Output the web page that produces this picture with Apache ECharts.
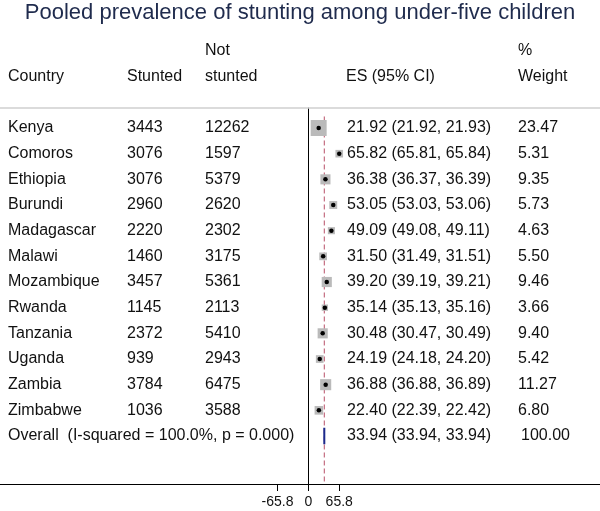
<!DOCTYPE html>
<html>
<head>
<meta charset="utf-8">
<script src="https://cdn.jsdelivr.net/npm/echarts@6/dist/echarts.min.js"></script>
<style>
html,body{margin:0;padding:0;background:#fff;}
#chart{width:600px;height:511px;}
</style>
</head>
<body>
<div id="chart"></div>
<script>
const countries = ["Kenya","Comoros","Ethiopia","Burundi","Madagascar","Malawi","Mozambique","Rwanda","Tanzania","Uganda","Zambia","Zimbabwe"];
const stunted = [3443,3076,3076,2960,2220,1460,3457,1145,2372,939,3784,1036];
const notStunted = [12262,1597,5379,2620,2302,3175,5361,2113,5410,2943,6475,3588];
const es = [21.92,65.82,36.38,53.05,49.09,31.50,39.20,35.14,30.48,24.19,36.88,22.40];
const ciLow = [21.92,65.81,36.37,53.03,49.08,31.49,39.19,35.13,30.47,24.18,36.88,22.39];
const ciHigh = [21.93,65.84,36.39,53.06,49.11,31.51,39.21,35.16,30.49,24.20,36.89,22.42];
const weight = [23.47,5.31,9.35,5.73,4.63,5.50,9.46,3.66,9.40,5.42,11.27,6.80];
const overallLabel = "Overall  (I-squared = 100.0%, p = 0.000)";
const overallES = 33.94, overallLow = 33.94, overallHigh = 33.94, overallWeight = 100.00;
const xTicks = [-65.8, 0, 65.8];

const FONT = '"Liberation Sans", Arial, sans-serif';
const TXT = '#111';
const FS = 16;
const nRows = countries.length; // overall row index = nRows
const fmtCI = (e,l,h) => e.toFixed(2) + ' (' + l.toFixed(2) + ', ' + h.toFixed(2) + ')';

const chart = echarts.init(document.getElementById('chart'), null, {renderer:'canvas'});

const rowsData = countries.map((c,i)=>[0,i]).concat([[0,nRows]]);
const Y_MIN = -0.78, Y_MAX = 13.87;

const hdr = (x,y,t)=>({type:'text',x:x,y:y,style:{text:t,font:FS+'px '+FONT,fill:TXT,verticalAlign:'middle'}});

const option = {
  animation:false,
  backgroundColor:'#fff',
  title:{
    text:'Pooled prevalence of stunting among under-five children',
    left:'center', top:-3,
    textStyle:{fontFamily:FONT,fontSize:22,fontWeight:'normal',color:'#1f2b4d'}
  },
  graphic:[
    hdr(205,51,'Not'), hdr(518,51,'%'),
    hdr(8,77,'Country'), hdr(127,77,'Stunted'), hdr(205,77,'stunted'),
    hdr(346,77,'ES (95% CI)'), hdr(518,77,'Weight')
  ],
  grid:{left:0,right:0,top:108,bottom:27,containLabel:false},
  xAxis:[{
    type:'value', min:-658, max:622.2, interval:65.8,
    axisLine:{onZero:false,lineStyle:{color:'#000',width:1}},
    axisTick:{show:true,length:7,customValues:xTicks,lineStyle:{color:'#000'}},
    axisLabel:{customValues:xTicks,color:TXT,fontFamily:FONT,fontSize:14,margin:11,
      formatter:v=>String(v)},
    splitLine:{show:false}
  },{
    type:'value', position:'top', min:-658, max:622.2,
    axisLine:{show:true,onZero:false,lineStyle:{color:'#cfcfcf',width:1.5}},
    axisTick:{show:false},axisLabel:{show:false},splitLine:{show:false}
  }],
  yAxis:{
    type:'value', inverse:true, min:Y_MIN, max:Y_MAX,
    axisLine:{show:true,onZero:true,lineStyle:{color:'#000',width:1}},
    axisTick:{show:false},axisLabel:{show:false},splitLine:{show:false}
  },
  series:[
    {
      type:'custom', name:'ref', silent:true, z:1,
      data:[[overallES, -0.45]],
      renderItem:(params,api)=>{
        const p1 = api.coord([api.value(0), api.value(1)]);
        const p2 = api.coord([api.value(0), Y_MAX]);
        return {type:'line',shape:{x1:p1[0],y1:p1[1],x2:p2[0],y2:p2[1]},
          style:{stroke:'#b85068',lineWidth:1,lineDash:[5,3]}};
      }
    },
    {
      type:'custom', name:'ci', silent:true, z:2,
      data:es.map((e,i)=>[ciLow[i],ciHigh[i],i]),
      renderItem:(params,api)=>{
        const a = api.coord([api.value(0), api.value(2)]);
        const b = api.coord([api.value(1), api.value(2)]);
        return {type:'line',shape:{x1:a[0],y1:a[1],x2:b[0],y2:b[1]},style:{stroke:'#000',lineWidth:1}};
      }
    },
    {
      type:'scatter', name:'weight', silent:true, z:3,
      symbol:'rect',
      data:es.map((e,i)=>[e,i]),
      symbolSize:(v,p)=>3.3*Math.sqrt(weight[p.dataIndex]),
      itemStyle:{color:'#bababa',opacity:1}
    },
    {
      type:'scatter', name:'es', silent:true, z:4,
      symbol:'circle', symbolSize:4.5,
      data:es.map((e,i)=>[e,i]),
      itemStyle:{color:'#000',opacity:1}
    },
    {
      type:'custom', name:'overall', silent:true, z:5,
      data:[[overallLow, overallHigh, nRows]],
      renderItem:(params,api)=>{
        const yv = api.value(2);
        const cx = api.coord([overallES, yv]);
        const l = api.coord([api.value(0), yv]);
        const r = api.coord([api.value(1), yv]);
        const top = api.coord([overallES, yv-0.32]);
        const bot = api.coord([overallES, yv+0.32]);
        return {type:'polygon',shape:{points:[[l[0],cx[1]],[cx[0],top[1]],[r[0],cx[1]],[cx[0],bot[1]]]},
          style:{fill:'none',stroke:'#1c2a8c',lineWidth:2}};
      }
    },
    {
      type:'custom', name:'table', silent:true, z:6,
      data:rowsData,
      renderItem:(params,api)=>{
        const i = params.dataIndex;
        const y = api.coord([0, api.value(1)])[1];
        const st = {font:FS+'px '+FONT,fill:TXT,verticalAlign:'middle'};
        const mk = (x,t)=>({type:'text',x:x,y:y,style:Object.assign({text:t},st)});
        if (i < nRows) {
          return {type:'group',children:[
            mk(8,countries[i]), mk(127,String(stunted[i])), mk(205,String(notStunted[i])),
            mk(347,fmtCI(es[i],ciLow[i],ciHigh[i])), mk(518,weight[i].toFixed(2))
          ]};
        }
        return {type:'group',children:[
          mk(8,overallLabel), mk(347,fmtCI(overallES,overallLow,overallHigh)), mk(521,overallWeight.toFixed(2))
        ]};
      }
    }
  ]
};
chart.setOption(option);
</script>
</body>
</html>
